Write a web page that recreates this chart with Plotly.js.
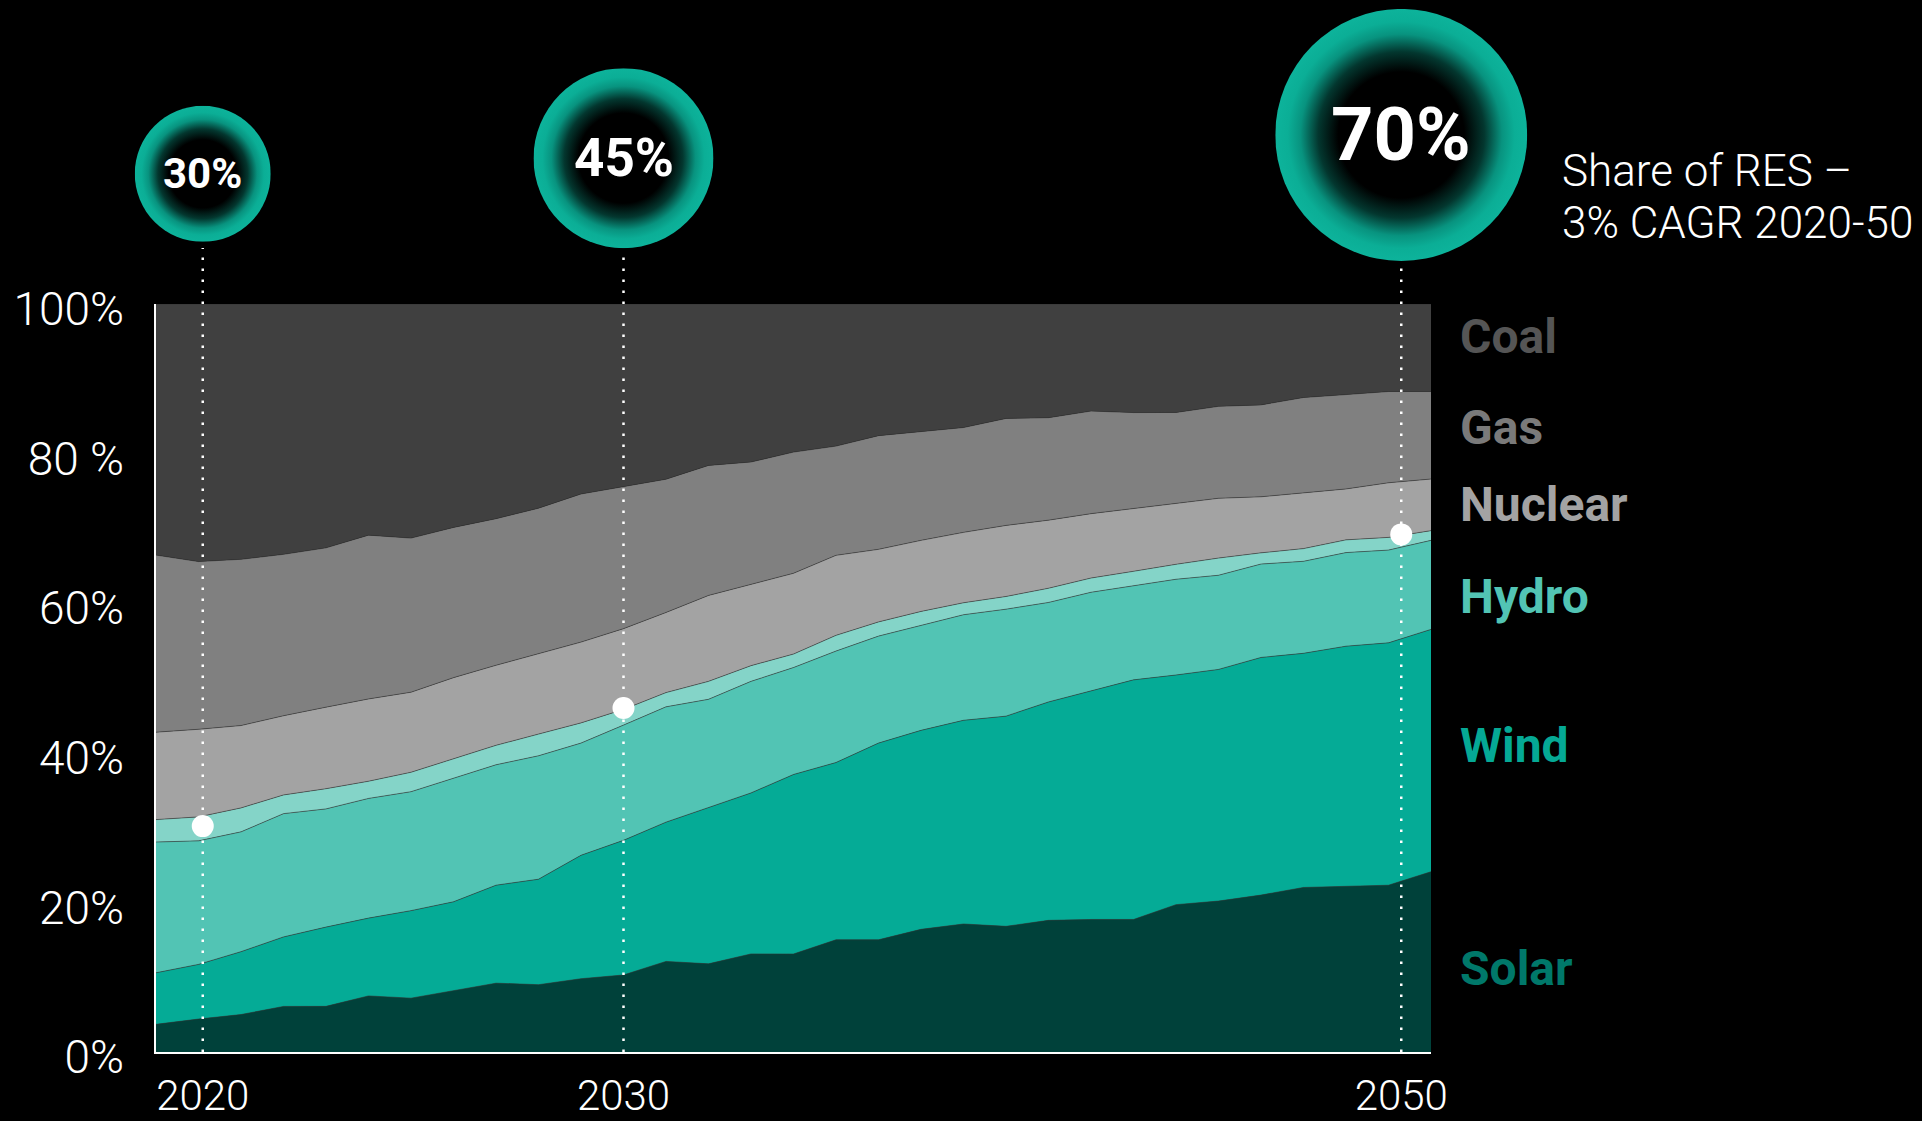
<!DOCTYPE html>
<html><head><meta charset="utf-8">
<script src="https://cdn.plot.ly/plotly-3.0.1.min.js"></script>
<style>html,body{margin:0;padding:0;background:#000;overflow:hidden}#chart{width:1922px;height:1121px}</style>
</head><body><div id="chart"></div>
<script>
// ---------- data ----------
const years = [2020,2021,2022,2023,2024,2025,2026,2027,2028,2029,2030,2031,2032,2033,2034,2035,2036,2037,2038,2039,2040,2041,2042,2043,2044,2045,2046,2047,2048,2049,2050];
const solar    = [3.7,4.4,5.0,6.1,6.1,7.5,7.2,8.2,9.2,9.0,9.8,10.3,12.1,11.8,13.1,13.1,15.0,15.0,16.4,17.1,16.8,17.6,17.7,17.7,19.7,20.2,21.0,22.0,22.1,22.3,24.1];
const wind     = [6.9,7.3,8.4,9.3,10.6,10.4,11.7,11.9,13.1,14.1,16.5,18.0,18.6,20.9,21.5,24.0,23.7,26.3,26.6,27.2,28.1,29.2,30.5,32.0,30.7,31.0,31.8,31.3,32.1,32.4,32.4];
const hydro    = [17.5,16.5,16.0,16.5,15.8,16.0,15.9,16.5,16.1,16.5,15.0,15.4,15.4,14.5,14.9,14.3,14.9,14.3,14.0,14.1,14.3,13.3,13.2,12.6,12.8,12.6,12.5,12.3,12.5,12.4,11.9];
const otherRes = [3.0,3.2,3.2,2.5,2.7,2.3,2.6,2.6,2.6,2.9,2.7,2.1,1.9,2.4,2.1,1.8,2.1,1.9,1.9,1.6,1.7,1.9,1.9,1.9,2.0,2.3,1.5,1.7,1.7,1.7,1.3];
const nuclear  = [11.7,11.7,11.0,10.6,10.9,11.0,10.7,10.9,10.7,10.7,10.8,10.8,10.7,11.5,10.9,10.8,10.7,9.7,9.5,9.4,9.5,9.1,8.6,8.4,8.2,8.0,7.5,7.5,6.8,7.3,6.9];
const gas      = [23.7,22.4,22.2,21.6,21.3,21.9,20.6,20.1,19.6,19.5,19.8,19.0,17.8,17.4,16.3,16.2,14.6,15.2,14.5,14.0,14.3,13.7,13.7,12.8,12.1,12.3,12.3,12.7,12.6,12.2,11.7];
const coal     = [33.6,34.4,34.1,33.5,32.6,30.9,31.3,29.9,28.7,27.3,25.4,24.4,23.4,21.6,21.1,19.8,19.0,17.6,17.1,16.5,15.3,15.2,14.3,14.5,14.5,13.7,13.5,12.5,12.1,11.7,11.7];

const seriesNames = ['Solar','Wind','Hydro','Other RES','Nuclear','Gas','Coal'];
const seriesValues = [solar, wind, hydro, otherRes, nuclear, gas, coal];

// milestones (RES share markers)
const milestoneX     = [2021.1, 2031.0, 2049.3];
const milestoneTicks = ['2020','2030','2050'];
const milestoneShare = [30.2, 46.0, 69.2];
const milestoneText  = ['30%','45%','70%'];

const yTickVals = [0,20,40,60,80,100];
const yTickText = ['0%','20%','40%','60%','80 %','100%'];
const subtitleLines = ['Share of RES –','3% CAGR 2020-50'];
const labelNames = ['Coal','Gas','Nuclear','Hydro','Wind','Solar'];

// ---------- styles ----------
const fills = {'Solar':'#00413a','Wind':'#05ab96','Hydro':'#52c4b4','Other RES':'#84d4c8','Nuclear':'#a3a3a3','Gas':'#808080','Coal':'#404040'};
const labelColors = {'Coal':'#555555','Gas':'#7a7a7a','Nuclear':'#a3a3a3','Hydro':'#52c4b4','Wind':'#05a995','Solar':'#00786a'};
const labelPosY = {'Coal':95.6,'Gas':83.5,'Nuclear':73.2,'Hydro':60.9,'Wind':41.0,'Solar':11.2};

const W = 1922, H = 1121;
const M = {l:156, r:491, t:304, b:69};
const plotW = W - M.l - M.r, plotH = H - M.t - M.b;

const bubbleDiam = [136, 180, 252];
const bubbleY = [1.174, 1.195, 1.226];
const bubbleFont = [42, 53, 74];
const lineTop = [1.075, 1.065, 1.049];

const FONT = 'Roboto, "Open Sans", "DejaVu Sans", sans-serif';

const traces = seriesNames.map((n, i) => ({
  type:'scatter', mode:'lines', name:n, x:years, y:seriesValues[i],
  stackgroup:'mix', groupnorm:'percent',
  fillcolor:fills[n], line:{color:'rgba(50,50,50,0.55)', width:1},
  hoverinfo:'skip', showlegend:false
}));
traces.push({
  type:'scatter', mode:'markers', x:milestoneX, y:milestoneShare,
  marker:{size:22, color:'#ffffff'}, cliponaxis:false, hoverinfo:'skip', showlegend:false
});

const svg = "<svg xmlns='http://www.w3.org/2000/svg' width='400' height='400' viewBox='0 0 400 400'>" +
  "<defs><radialGradient id='g' cx='50%' cy='50%' r='50%'>" +
  "<stop offset='0' stop-color='#000000'/><stop offset='0.5' stop-color='#000000'/>" +
  "<stop offset='0.66' stop-color='#03372f'/><stop offset='0.8' stop-color='#08937f'/>" +
  "<stop offset='0.9' stop-color='#0bae96'/><stop offset='1' stop-color='#0db39b'/>" +
  "</radialGradient></defs><circle cx='200' cy='200' r='200' fill='url(#g)'/></svg>";
const bubbleSrc = 'data:image/svg+xml;base64,' + btoa(svg);
const x0 = years[0], x1 = years[years.length-1];

const images = milestoneX.map((mx, i) => ({
  source: bubbleSrc, xref:'paper', yref:'paper',
  x:(mx - x0)/(x1 - x0), y:bubbleY[i],
  sizex:bubbleDiam[i]/plotW, sizey:bubbleDiam[i]/plotH,
  xanchor:'center', yanchor:'middle', sizing:'contain', layer:'above'
}));

const shapes = milestoneX.map((mx, i) => ({
  type:'line', xref:'x', yref:'paper', x0:mx, x1:mx, y0:0, y1:lineTop[i],
  line:{color:'#ffffff', width:2.5, dash:'2.5px,8.5px'}, layer:'above'
}));

const annotations = [];
milestoneX.forEach((mx, i) => annotations.push({
  xref:'x', yref:'paper', x:mx, y:bubbleY[i], text:milestoneText[i], showarrow:false,
  xanchor:'center', yanchor:'middle',
  font:{family:FONT, size:bubbleFont[i], weight:700, color:'#ffffff'}
}));
subtitleLines.forEach((t, i) => annotations.push({
  xref:'paper', yref:'paper', x:1.101, y:[1.178, 1.108][i], text:t, showarrow:false,
  xanchor:'left', yanchor:'middle',
  font:{family:FONT, size:44, weight:300, color:'#ffffff'}
}));
labelNames.forEach(n => annotations.push({
  xref:'paper', yref:'y', x:1.0215, y:labelPosY[n], text:n, showarrow:false,
  xanchor:'left', yanchor:'middle',
  font:{family:FONT, size:48, weight:700, color:labelColors[n]}
}));

const layout = {
  width:W, height:H, margin:{l:M.l, r:M.r, t:M.t, b:M.b, pad:0},
  paper_bgcolor:'#000000', plot_bgcolor:'#000000', showlegend:false, hovermode:false,
  xaxis:{range:[x0, x1], tickmode:'array', tickvals:milestoneX, ticktext:milestoneTicks,
    showgrid:false, zeroline:false, showline:true, linecolor:'#ffffff', linewidth:1.5,
    ticks:'', ticklabelstandoff:6, fixedrange:true,
    tickfont:{family:FONT, size:42, weight:300, color:'#ffffff'}},
  yaxis:{range:[0,100], tickmode:'array', tickvals:yTickVals, ticktext:yTickText,
    showgrid:false, zeroline:false, showline:true, linecolor:'#ffffff', linewidth:1.5,
    ticks:'', ticklabelstandoff:21, ticklabelshift:5, fixedrange:true,
    tickfont:{family:FONT, size:46, weight:300, color:'#ffffff'}},
  images:images, shapes:shapes, annotations:annotations
};

Plotly.newPlot('chart', traces, layout, {displayModeBar:false, responsive:false});
</script></body></html>
